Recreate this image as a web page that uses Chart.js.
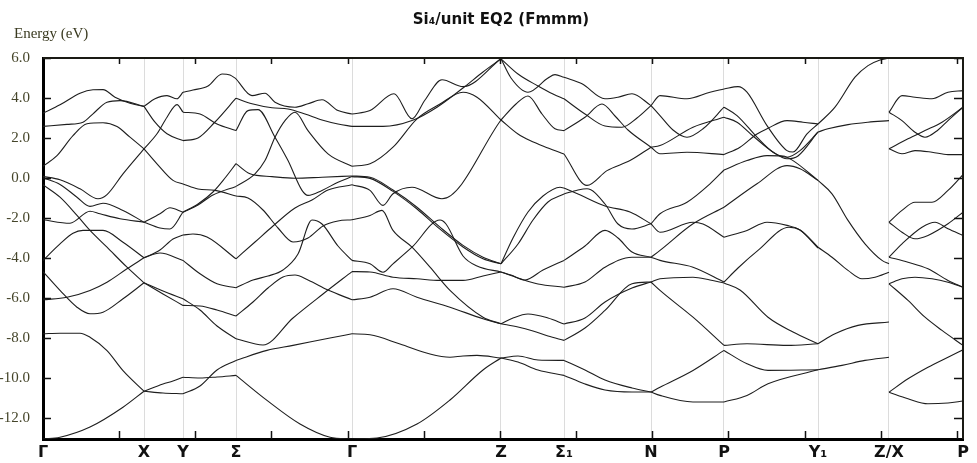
<!DOCTYPE html>
<html>
<head>
<meta charset="utf-8">
<script src="https://cdn.jsdelivr.net/npm/chart.js@4"></script>
<style>
  html, body { margin: 0; padding: 0; background: #fff; }
  #bands { display: block; }
</style>
</head>
<body>
<canvas id="bands" width="977" height="463"></canvas>
<script>
// high-symmetry points along the k-path
const kPoints = [0, 10.1, 14.0, 19.3, 30.9, 45.8, 52.1, 60.8, 68.1, 77.5, 84.6, 92.0];
const kLabels = ['Γ', 'X', 'Y', 'Σ', 'Γ', 'Z', 'Σ₁', 'N', 'P', 'Y₁', 'Z/X', 'P'];
const yTicks = [6, 4, 2, 0, -2, -4, -6, -8, -10, -12];
const kTickStep = 7.615;

// each band piece is a list of [k, E(eV)] inside one path segment
const bandsGX = [
  [[0,3.24],[1.7,3.66],[3.7,4.24],[5.0,4.41],[6.0,4.42],[7.2,4.04],[8.7,3.74],[10.1,3.58]],
  [[0,2.58],[2.4,2.68],[4.0,2.79],[5.0,3.21],[6.4,3.79],[7.7,3.87],[10.1,3.58]],
  [[0,0.59],[1.4,1.12],[3.0,2.12],[4.4,2.71],[6.0,2.76],[7.4,2.57],[8.7,2.04],[10.1,1.46]],
  [[0,0.08],[1.7,-0.09],[3.7,-0.54],[5.5,-1.04],[6.4,-0.83],[8.0,0.21],[10.1,1.46]],
  [[0,0.01],[1.7,-0.32],[3.4,-0.96],[4.7,-1.42],[6.0,-1.26],[8.0,-1.62],[10.1,-2.21]],
  [[0,-0.34],[1.7,-0.96],[3.4,-1.87],[4.7,-2.62],[6.4,-3.46],[8.4,-4.46],[10.1,-5.24]],
  [[0,-2.09],[2.7,-2.26],[4.7,-1.66],[5.7,-1.79],[7.7,-2.04],[10.1,-2.21]],
  [[0,-4.12],[1.7,-3.29],[3.0,-2.76],[4.0,-2.62],[6.0,-2.62],[8.0,-3.21],[10.1,-3.99]],
  [[0,-4.68],[1.7,-5.62],[3.4,-6.46],[4.7,-6.79],[6.0,-6.71],[8.0,-6.04],[10.1,-5.24]],
  [[0,-6.09],[2.4,-5.96],[4.7,-5.62],[6.4,-5.21],[8.4,-4.54],[10.1,-3.99]],
  [[0,-7.79],[1.7,-7.76],[3.7,-7.76],[4.7,-7.96],[6.4,-8.63],[8.0,-9.63],[10.1,-10.66]],
  [[0,-13.05],[1.7,-12.96],[4.7,-12.45],[8.0,-11.46],[10.1,-10.66]]
];

const bandsXY = [
  [[10.1,3.58],[11.2,3.96],[12.4,4.12],[13.4,3.96],[14.0,4.29]],
  [[10.1,3.58],[11.2,2.79],[12.4,2.21],[14.0,1.87]],
  [[10.1,1.46],[11.4,0.71],[13.0,-0.12],[14.0,-0.3]],
  [[10.1,1.46],[11.4,2.21],[12.4,3.04],[13.4,3.67],[14.0,3.29]],
  [[10.1,-2.21],[11.7,-1.79],[12.7,-1.49],[14.0,-1.71]],
  [[10.1,-2.21],[11.7,-2.5],[12.7,-2.55],[14.0,-1.71]],
  [[10.1,-3.99],[11.7,-3.6],[13.0,-3.05],[14.0,-2.85]],
  [[10.1,-3.99],[11.7,-3.75],[14.0,-4.12]],
  [[10.1,-5.24],[12.0,-5.8],[14.0,-6.37]],
  [[10.1,-5.24],[12.0,-5.65],[14.0,-6.04]],
  [[10.1,-10.66],[12.0,-10.3],[13.0,-10.15],[14.0,-9.96]],
  [[10.1,-10.66],[12.0,-10.75],[14.0,-10.79]]
];

const bandsYS = [
  [[14.0,4.29],[15.0,4.4],[16.5,4.6],[17.9,5.2],[18.7,5.15],[19.3,4.96]],
  [[14.0,1.87],[15.5,2.0],[17.2,2.8],[19.3,3.99]],
  [[14.0,3.29],[15.7,3.2],[17.4,2.7],[19.3,2.37]],
  [[14.0,-0.3],[15.5,-0.55],[17.2,-0.62],[19.3,-0.9]],
  [[14.0,-1.71],[15.5,-1.3],[17.0,-0.7],[18.2,0.0],[19.3,0.72]],
  [[14.0,-1.71],[15.5,-1.35],[17.0,-0.85],[19.3,-0.42]],
  [[14.0,-2.85],[15.0,-2.8],[16.4,-2.95],[19.3,-4.04]],
  [[14.0,-4.12],[15.7,-4.79],[17.4,-5.29],[19.3,-5.49]],
  [[14.0,-6.37],[15.7,-6.4],[17.4,-6.6],[19.3,-6.9]],
  [[14.0,-6.04],[15.7,-6.6],[17.4,-7.4],[19.3,-8.04]],
  [[14.0,-9.96],[15.7,-10.0],[17.4,-9.95],[19.3,-9.87]],
  [[14.0,-10.79],[15.7,-10.4],[17.4,-9.6],[19.3,-9.12]]
];

const bandsSG = [
  [[19.3,4.96],[20.9,4.12],[22.2,4.24],[23.2,3.79],[25.2,3.54],[26.5,3.71],[27.9,3.91],[29.5,3.37],[30.9,3.2]],
  [[19.3,3.99],[20.9,3.71],[22.9,3.51],[24.5,3.45],[26.2,3.2],[27.9,2.9],[29.5,2.7],[30.9,2.58]],
  [[19.3,2.37],[20.5,3.37],[21.5,3.42],[23.2,2.04],[24.5,0.87],[25.9,-0.62],[26.5,-0.87],[27.9,-0.62],[29.5,-0.21],[30.9,0.07]],
  [[19.3,0.72],[20.7,0.21],[22.9,0.07],[25.2,-0.01],[27.9,0.04],[30.9,0.1]],
  [[19.3,-0.42],[21.2,0.21],[22.2,0.87],[23.2,2.04],[24.2,2.87],[25.2,3.29],[26.5,2.37],[28.5,1.21],[30.9,0.59]],
  [[19.3,-0.9],[20.5,-1.0],[22.0,-1.6],[23.5,-2.5],[25.0,-3.2],[26.5,-3.0],[28.0,-2.4],[29.5,-2.15],[30.9,-2.09]],
  [[19.3,-4.04],[21.2,-3.2],[23.0,-2.4],[25.2,-1.5],[26.9,-1.1],[28.5,-0.6],[30.9,-0.34]],
  [[19.3,-5.49],[21.0,-5.1],[22.5,-4.9],[24.0,-4.6],[25.5,-3.8],[26.9,-2.1],[27.9,-2.3],[29.5,-3.4],[30.9,-4.12]],
  [[19.3,-6.9],[21.0,-6.2],[22.5,-5.5],[24.0,-4.95],[25.2,-4.85],[26.5,-5.1],[28.5,-5.6],[30.9,-6.09]],
  [[19.3,-8.04],[22.0,-8.35],[25.0,-7.0],[28.0,-5.8],[30.9,-4.68]],
  [[19.3,-9.12],[22.4,-8.62],[25.0,-8.37],[28.7,-8.0],[30.9,-7.79]],
  [[19.3,-9.87],[22.4,-11.12],[25.7,-12.3],[28.7,-12.96],[30.9,-13.05]]
];

const bandsGZ = [
  [[30.9,3.2],[32.7,3.37],[35.1,4.21],[36.9,2.96],[38.2,3.9],[39.9,4.91],[42.0,4.57],[45.8,5.96]],
  [[30.9,2.58],[34.0,2.58],[36.9,2.87],[39.4,3.54],[42.0,4.5],[44.0,5.3],[45.8,5.96]],
  [[30.9,0.59],[32.7,0.71],[35.0,1.54],[37.4,2.96],[39.7,3.7],[42.0,4.29],[43.4,4.04],[45.8,2.9]],
  [[30.9,0.1],[32.7,0.04],[35.0,-0.6],[37.4,-1.46],[39.7,-2.46],[42.0,-3.37],[44.0,-3.96],[45.8,-4.29]],
  [[30.9,0.07],[32.7,-0.02],[35.0,-0.67],[37.4,-1.55],[39.7,-2.56],[42.0,-3.45],[44.0,-4.04],[45.8,-4.29]],
  [[30.9,-0.34],[32.7,-0.62],[34.0,-1.37],[35.0,-0.79],[36.9,-0.46],[39.9,-1.04],[45.8,2.9]],
  [[30.9,-2.09],[32.7,-1.87],[33.9,-1.62],[35.0,-2.62],[36.9,-3.46],[38.7,-4.46],[40.7,-5.62],[44.0,-6.96],[45.8,-7.29]],
  [[30.9,-4.12],[32.7,-4.29],[34.0,-4.71],[35.0,-4.29],[36.9,-3.46],[39.7,-2.1],[40.3,-2.3],[42.0,-3.9],[43.4,-4.4],[45.8,-4.7]],
  [[30.9,-4.68],[32.7,-4.7],[35.0,-4.96],[37.4,-5.04],[39.7,-5.12],[42.0,-5.12],[44.0,-4.9],[45.8,-4.7]],
  [[30.9,-6.09],[32.7,-5.96],[35.0,-5.54],[37.4,-5.96],[40.7,-6.46],[44.0,-7.04],[45.8,-7.29]],
  [[30.9,-7.79],[32.7,-7.84],[35.7,-8.3],[38.7,-8.8],[40.7,-8.96],[42.0,-8.9],[43.4,-8.87],[45.8,-9.0]],
  [[30.9,-13.05],[33.4,-13.0],[37.4,-12.3],[40.7,-11.1],[44.0,-9.6],[45.8,-9.0]]
];

const bandsZS1 = [
  [[45.8,5.96],[46.8,5.0],[48.5,4.29],[50.5,5.0],[51.2,5.17],[52.1,5.04]],
  [[45.8,5.96],[47.5,5.2],[49.5,4.6],[51.0,4.2],[52.1,3.96]],
  [[45.8,2.9],[47.3,3.7],[48.5,4.1],[49.9,3.2],[51.2,2.46],[52.1,2.37]],
  [[45.8,2.9],[47.5,2.2],[48.7,1.87],[50.5,1.5],[52.1,1.2]],
  [[45.8,-4.29],[47.0,-3.0],[48.5,-1.7],[50.0,-0.9],[51.7,-0.46],[52.1,-0.5]],
  [[45.8,-4.29],[47.5,-3.3],[49.0,-2.1],[50.5,-1.2],[52.1,-0.8]],
  [[45.8,-4.7],[46.8,-4.85],[48.2,-5.1],[50.0,-4.6],[52.1,-4.12]],
  [[45.8,-4.7],[47.5,-5.0],[49.5,-5.3],[52.1,-5.46]],
  [[45.8,-7.29],[47.5,-7.45],[49.0,-7.65],[50.5,-7.9],[52.1,-8.12]],
  [[45.8,-7.29],[47.0,-7.0],[48.5,-6.8],[50.5,-7.0],[52.1,-7.3]],
  [[45.8,-9.0],[47.5,-8.9],[49.5,-9.1],[52.1,-9.12]],
  [[45.8,-9.0],[47.5,-9.2],[49.5,-9.6],[52.1,-9.87]]
];

const bandsS1N = [
  [[52.1,5.04],[53.9,4.71],[56.2,3.96],[57.5,4.04],[58.9,4.21],[60.8,3.62]],
  [[52.1,3.96],[54.2,3.2],[56.2,2.6],[57.9,2.54],[59.4,3.0],[60.8,3.62]],
  [[52.1,2.37],[54.2,3.04],[55.9,3.7],[57.2,3.1],[58.5,2.4],[60.8,1.54]],
  [[52.1,1.2],[54.4,-0.37],[56.4,0.37],[58.7,0.87],[60.8,1.54]],
  [[52.1,-0.5],[53.5,-0.8],[56.2,-1.4],[58.7,-1.7],[60.8,-2.29]],
  [[52.1,-0.8],[53.5,-0.6],[54.4,-0.54],[56.2,-1.3],[57.5,-2.3],[58.9,-2.55],[60.8,-2.29]],
  [[52.1,-4.12],[54.2,-3.4],[56.2,-2.62],[57.5,-3.0],[58.9,-3.7],[60.8,-3.96]],
  [[52.1,-5.46],[54.2,-5.2],[56.2,-4.46],[58.9,-3.96],[60.8,-3.96]],
  [[52.1,-8.12],[54.2,-7.5],[56.2,-6.62],[58.9,-5.29],[60.8,-5.2]],
  [[52.1,-7.3],[54.2,-7.0],[56.2,-6.2],[58.9,-5.5],[60.8,-5.2]],
  [[52.1,-9.12],[54.2,-9.6],[56.2,-10.1],[58.9,-10.5],[60.8,-10.7]],
  [[52.1,-9.87],[54.2,-10.3],[56.2,-10.6],[58.9,-10.7],[60.8,-10.7]]
];

const bandsNP = [
  [[60.8,3.62],[61.7,4.12],[64.4,3.96],[66.7,4.29],[68.1,4.45]],
  [[60.8,3.62],[61.7,3.12],[63.0,2.4],[64.4,2.04],[66.0,2.46],[68.1,3.54]],
  [[60.8,1.54],[61.7,1.62],[65.0,2.54],[68.1,3.04]],
  [[60.8,1.54],[61.7,1.21],[64.4,1.29],[68.1,1.17]],
  [[60.8,-2.29],[61.7,-1.79],[64.4,-1.21],[66.7,-0.29],[68.1,0.4]],
  [[60.8,-2.29],[61.7,-2.71],[65.0,-2.21],[66.0,-2.3],[68.1,-2.96]],
  [[60.8,-3.96],[61.7,-3.62],[65.0,-2.29],[68.1,-1.46]],
  [[60.8,-3.96],[61.7,-4.12],[65.0,-4.46],[68.1,-5.2]],
  [[60.8,-5.2],[61.7,-5.04],[65.0,-4.96],[66.7,-5.1],[68.1,-5.25]],
  [[60.8,-5.2],[61.7,-5.62],[65.0,-6.96],[68.1,-8.37]],
  [[60.8,-10.7],[61.7,-10.46],[65.0,-9.62],[68.1,-8.62]],
  [[60.8,-10.7],[61.7,-10.87],[65.0,-11.2],[68.1,-11.2]]
];

const bandsPY1 = [
  [[68.1,4.45],[69.5,4.57],[70.4,4.29],[72.4,2.62],[74.4,1.37],[75.0,1.3],[76.4,2.21],[77.5,2.7]],
  [[68.1,3.54],[69.4,3.12],[71.4,2.04],[73.0,1.29],[74.4,1.04],[75.7,1.37],[77.5,2.3]],
  [[68.1,3.04],[69.4,2.79],[71.0,2.1],[73.0,1.3],[74.4,0.96],[75.5,1.1],[77.5,2.3]],
  [[68.1,1.17],[69.7,1.54],[71.4,2.2],[72.4,2.46],[74.4,2.87],[76.0,2.79],[77.5,2.7]],
  [[68.1,0.4],[70.4,0.87],[72.4,1.12],[74.0,1.1],[75.0,0.87],[77.5,-0.12]],
  [[68.1,-1.46],[71.4,-0.29],[74.4,0.62],[75.7,0.46],[77.5,-0.12]],
  [[68.1,-2.96],[70.4,-2.62],[72.4,-2.21],[74.4,-2.37],[75.7,-2.6],[77.5,-3.5]],
  [[68.1,-5.2],[69.5,-4.5],[71.5,-3.62],[74.6,-2.46],[75.7,-2.6],[77.5,-3.46]],
  [[68.1,-5.25],[69.7,-5.6],[72.5,-6.96],[75.0,-7.7],[77.5,-8.29]],
  [[68.1,-8.37],[70.4,-8.29],[74.4,-8.37],[77.5,-8.29]],
  [[68.1,-8.62],[70.4,-9.29],[72.5,-9.62],[77.5,-9.59]],
  [[68.1,-11.2],[70.4,-10.87],[72.5,-10.29],[77.5,-9.59]]
];

const bandsY1Z = [
  [[77.5,2.7],[79.2,3.54],[81.2,5.04],[82.5,5.62],[83.7,5.9],[84.6,6.0]],
  [[77.5,2.3],[78.5,2.46],[80.5,2.67],[82.5,2.79],[84.6,2.87]],
  [[77.5,-0.12],[78.9,-0.79],[80.5,-2.12],[82.2,-3.29],[83.9,-4.12],[84.6,-4.29]],
  [[77.5,-3.46],[78.9,-3.96],[80.5,-4.62],[81.9,-5.04],[83.2,-4.96],[84.6,-4.71]],
  [[77.5,-8.29],[79.2,-7.79],[81.5,-7.37],[84.6,-7.2]],
  [[77.5,-9.59],[79.9,-9.37],[82.2,-9.12],[84.6,-8.96]]
];

const bandsXP = [
  [[84.6,3.29],[85.9,4.12],[87.2,4.04],[88.9,3.96],[90.5,4.29],[92.0,4.37]],
  [[84.6,3.29],[85.9,2.87],[87.2,2.29],[88.2,2.04],[89.5,2.4],[90.5,2.87],[92.0,3.54]],
  [[84.6,1.46],[86.5,1.96],[88.2,2.37],[89.9,2.79],[92.0,3.54]],
  [[84.6,1.46],[85.9,1.21],[87.2,1.37],[88.9,1.29],[90.5,1.17],[92.0,1.17]],
  [[84.6,-2.21],[85.9,-1.62],[87.2,-1.21],[88.9,-1.21],[90.5,-0.62],[92.0,0.17]],
  [[84.6,-2.21],[85.9,-2.71],[87.2,-3.04],[88.5,-2.87],[90.5,-2.29],[92.0,-1.71]],
  [[84.6,-3.96],[85.9,-3.29],[87.9,-2.46],[89.2,-2.21],[90.5,-2.54],[92.0,-2.87]],
  [[84.6,-3.96],[86.5,-4.21],[88.5,-4.54],[90.5,-5.12],[92.0,-5.46]],
  [[84.6,-5.29],[85.9,-5.04],[87.2,-4.96],[88.9,-5.04],[90.5,-5.21],[92.0,-5.46]],
  [[84.6,-5.29],[86.5,-6.12],[88.2,-6.96],[89.9,-7.62],[92.0,-8.37]],
  [[84.6,-10.71],[86.5,-10.04],[88.5,-9.46],[90.5,-8.96],[92.0,-8.59]],
  [[84.6,-10.71],[86.5,-11.04],[88.5,-11.29],[90.5,-11.25],[92.0,-11.15]]
];

const allBands = [].concat(bandsGX, bandsXY, bandsYS, bandsSG, bandsGZ, bandsZS1,
  bandsS1N, bandsNP, bandsPY1, bandsY1Z, bandsXP);

const datasets = allBands.map(piece => ({
  data: piece.map(p => ({ x: p[0], y: p[1] })),
  showLine: true,
  borderColor: '#1e1e1e',
  borderWidth: 1.1,
  pointRadius: 0,
  cubicInterpolationMode: 'monotone'
}));

// inward ticks on all four sides, top/right frame, title and energy caption
const frame = {
  id: 'frame',
  afterDatasetsDraw(chart) {
    const { ctx, chartArea: a, scales: { x, y } } = chart;
    ctx.save();
    ctx.strokeStyle = '#111';
    ctx.lineWidth = 1.5;
    ctx.beginPath();
    for (let k = kTickStep; k < x.max; k += kTickStep) {
      const px = Math.round(x.getPixelForValue(k)) + 0.5;
      ctx.moveTo(px, a.top); ctx.lineTo(px, a.top + 6);
      ctx.moveTo(px, a.bottom); ctx.lineTo(px, a.bottom - 8);
    }
    yTicks.forEach(v => {
      const py = Math.round(y.getPixelForValue(v)) + 0.5;
      ctx.moveTo(a.left, py); ctx.lineTo(a.left + 8, py);
      ctx.moveTo(a.right, py); ctx.lineTo(a.right - 9, py);
    });
    ctx.stroke();

    ctx.strokeStyle = '#1a1a14';
    ctx.lineWidth = 2;
    ctx.beginPath();
    ctx.moveTo(a.left, a.top); ctx.lineTo(a.right, a.top); ctx.lineTo(a.right, a.bottom);
    ctx.stroke();

    ctx.fillStyle = '#111';
    ctx.font = 'bold 15px "DejaVu Sans"';
    ctx.textAlign = 'center';
    ctx.textBaseline = 'middle';
    ctx.fillText('Si₄/unit EQ2 (Fmmm)', (a.left + a.right) / 2 - 2, 20);

    ctx.fillStyle = '#3a3a20';
    ctx.font = '15px "Liberation Serif"';
    ctx.textAlign = 'left';
    ctx.textBaseline = 'alphabetic';
    ctx.fillText('Energy (eV)', 14, 38);
    ctx.restore();
  }
};

new Chart(document.getElementById('bands'), {
  type: 'scatter',
  data: { datasets },
  options: {
    responsive: false,
    animation: false,
    layout: { padding: { top: 58, right: 14, left: 0, bottom: 0 } },
    plugins: { legend: { display: false }, tooltip: { enabled: false } },
    scales: {
      x: {
        type: 'linear',
        min: 0,
        max: 92.0,
        afterBuildTicks: s => { s.ticks = kPoints.map(v => ({ value: v })); },
        afterFit: s => { s.height = 24; },
        ticks: {
          autoSkip: false,
          maxRotation: 0,
          padding: 4,
          color: '#111',
          font: { family: 'DejaVu Sans', weight: 'bold', size: 16 },
          callback: (v, i) => kLabels[i]
        },
        grid: { color: '#dcdcdc', lineWidth: 1, drawTicks: false },
        border: { color: '#000', width: 3 }
      },
      y: {
        min: -13.05,
        max: 6.0,
        afterBuildTicks: s => { s.ticks = yTicks.map(v => ({ value: v })); },
        afterFit: s => { s.width = 43; },
        ticks: {
          padding: 5,
          color: '#45452a',
          font: { family: 'Liberation Serif', size: 15 },
          callback: v => v.toFixed(1)
        },
        grid: { display: false },
        border: { color: '#000', width: 3 }
      }
    }
  },
  plugins: [frame]
});
</script>
</body>
</html>
